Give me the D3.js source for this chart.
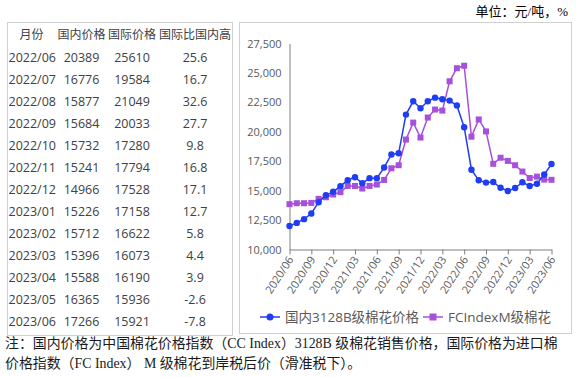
<!DOCTYPE html>
<html>
<head>
<meta charset="utf-8">
<script src="https://cdn.jsdelivr.net/npm/d3@7"></script>
<style>
  body { margin: 0; background: #fff; }
  svg { display: block; }
</style>
</head>
<body>
<svg id="chart" width="579" height="377"></svg>
<script>
const svg = d3.select("#chart"),
    width = +svg.attr("width"),
    height = +svg.attr("height");

// monthly data, 2020/06 - 2023/06
const months = ["2020/06","2020/07","2020/08","2020/09","2020/10","2020/11","2020/12",
    "2021/01","2021/02","2021/03","2021/04","2021/05","2021/06","2021/07","2021/08","2021/09","2021/10","2021/11","2021/12",
    "2022/01","2022/02","2022/03","2022/04","2022/05","2022/06","2022/07","2022/08","2022/09","2022/10","2022/11","2022/12",
    "2023/01","2023/02","2023/03","2023/04","2023/05","2023/06"];
const domestic = [12000,12260,12580,13060,14020,14610,14900,
    15380,15890,16140,15630,16060,16060,16960,18070,18180,21460,22590,22000,
    22590,22900,22760,22650,22230,20389,16776,15877,15684,15732,15241,14966,
    15226,15712,15396,15588,16365,17266];
const international = [13850,13930,13930,13960,14300,14440,14670,
    14870,15400,15400,15180,15400,15520,15910,16900,17160,19340,20780,19510,
    21210,21890,21800,24290,25400,25610,19584,21049,20033,17280,17794,17528,
    17158,16622,16073,16190,15936,15921];

// table
const tableHeader = ["月份", "国内价格", "国际价格", "国际比国内高"];
const tableMonths = months.slice(24);
const tableDomestic = domestic.slice(24);
const tableIntl = international.slice(24);
const tablePct = ["25.6","16.7","32.6","27.7","9.8","16.8","17.1","12.7","5.8","4.4","3.9","-2.6","-7.8"];

const yTicks = [10000,12500,15000,17500,20000,22500,25000,27500];
const seriesNames = ["国内3128B级棉花价格", "FCIndexM级棉花"];
const blue = "#1f3df5", purple = "#a650dc";

const cjk = "'Open Sans','Noto Sans CJK SC',sans-serif";
const serif = "'Liberation Serif','Noto Sans CJK SC',serif";

// unit label
svg.append("text")
    .attr("x", 568).attr("y", 16)
    .attr("text-anchor", "end")
    .style("font-family", serif).style("font-size", "13px")
    .text("单位：元/吨，%");

// boxes
svg.append("rect").attr("x", 7.5).attr("y", 22.5).attr("width", 225).attr("height", 313)
    .attr("fill", "none").attr("stroke", "#d0d0d0");
svg.append("rect").attr("x", 239.5).attr("y", 22.5).attr("width", 332).attr("height", 311)
    .attr("fill", "none").attr("stroke", "#d0d0d0");

// ---- table ----
const colX = [31.5, 81.5, 132, 195];
const table = svg.append("g")
    .style("font-family", cjk).style("font-size", "12px").attr("fill", "#404040");
table.selectAll("text.head")
    .data(tableHeader)
    .enter()
    .append("text")
    .attr("class", "head")
    .attr("x", function(d, i){ return colX[i]; })
    .attr("y", 39)
    .attr("text-anchor", "middle")
    .text(function(d){ return d; });

const rowY = d3.scaleLinear().domain([0, 12]).range([61.5, 325.5]);
tableMonths.forEach(function(m, i){
    const row = [m, tableDomestic[i], tableIntl[i], tablePct[i]];
    table.selectAll(null)
        .data(row)
        .enter()
        .append("text")
        .attr("x", function(d, j){ return j === 0 ? 8.5 : colX[j]; })
        .attr("y", rowY(i))
        .attr("text-anchor", function(d, j){ return j === 0 ? "start" : "middle"; })
        .style("font-size", "12.5px")
        .text(function(d){ return d; });
});

// ---- chart ----
const x = d3.scalePoint().domain(months).range([289.5, 551.5]);
const y = d3.scaleLinear().domain([10000, 27500]).range([249.5, 43.5]);

const yAxis = svg.append("g")
    .attr("transform", "translate(289.5,0)")
    .call(d3.axisLeft(y).tickValues(yTicks).tickSize(0).tickPadding(8).tickFormat(d3.format(",")));
yAxis.select(".domain").attr("stroke", "#7f7f7f");
yAxis.selectAll("text")
    .style("font-family", cjk).style("font-size", "11px").attr("fill", "#595959");

const xAxis = svg.append("g")
    .attr("transform", "translate(0,249.5)")
    .call(d3.axisBottom(x).tickValues(months.filter(function(d, i){ return i % 3 === 0; })).tickSize(5).tickSizeOuter(0));
xAxis.select(".domain").attr("stroke", "#7f7f7f");
xAxis.selectAll("line").attr("stroke", "#7f7f7f");
xAxis.selectAll("text")
    .style("font-family", cjk).style("font-size", "11px").attr("fill", "#595959")
    .attr("text-anchor", "end")
    .attr("dy", null)
    .attr("y", 0)
    .attr("transform", "translate(4,10) rotate(-57)");

const line = d3.line()
    .x(function(d, i){ return x(months[i]); })
    .y(function(d){ return y(d); });

svg.append("path").datum(international)
    .attr("d", line).attr("fill", "none").attr("stroke", purple).attr("stroke-width", 1.5);
svg.append("g").selectAll("rect")
    .data(international)
    .enter()
    .append("rect")
    .attr("x", function(d, i){ return x(months[i]) - 3; })
    .attr("y", function(d){ return y(d) - 3; })
    .attr("width", 6).attr("height", 6)
    .attr("fill", purple);

svg.append("path").datum(domestic)
    .attr("d", line).attr("fill", "none").attr("stroke", blue).attr("stroke-width", 1.5);
svg.append("g").selectAll("circle")
    .data(domestic)
    .enter()
    .append("circle")
    .attr("cx", function(d, i){ return x(months[i]); })
    .attr("cy", function(d){ return y(d); })
    .attr("r", 3.2)
    .attr("fill", blue);

// legend
const legendX = [260, 423];
const legendColors = [blue, purple];
const legend = svg.append("g").attr("transform", "translate(0,317)");
seriesNames.forEach(function(name, i){
    const g = legend.append("g").attr("transform", "translate(" + legendX[i] + ",0)");
    g.append("line").attr("x1", 0).attr("x2", 20).attr("stroke", legendColors[i]).attr("stroke-width", 1.5);
    if (i === 0) {
        g.append("circle").attr("cx", 10).attr("r", 3.5).attr("fill", blue);
    } else {
        g.append("rect").attr("x", 6.5).attr("y", -3.5).attr("width", 7).attr("height", 7).attr("fill", purple);
    }
    g.append("text").attr("x", 25).attr("y", 5)
        .style("font-family", cjk).style("font-size", "13.5px").attr("fill", "#595959")
        .text(name);
});

// footnote
const notes = ["注：国内价格为中国棉花价格指数（CC Index）3128B 级棉花销售价格，国际价格为进口棉",
    "价格指数（FC Index） M 级棉花到岸税后价（滑准税下）。"];
svg.selectAll("text.note")
    .data(notes)
    .enter()
    .append("text")
    .attr("class", "note")
    .attr("x", 5)
    .attr("y", function(d, i){ return 348 + i * 20; })
    .style("font-family", serif).style("font-size", "13.9px").attr("fill", "#1a1a1a")
    .text(function(d){ return d; });
</script>
</body>
</html>
